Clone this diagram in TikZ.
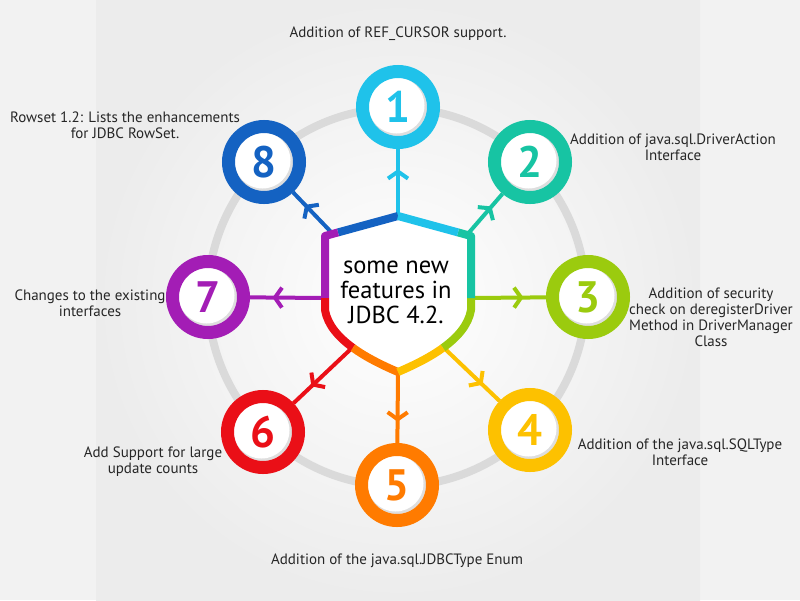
\documentclass[tikz,border=0pt]{standalone}
\usepackage{fontspec}
\setmainfont{PT Sans}
\usetikzlibrary{arrows.meta,decorations.markings}
\definecolor{featcyan}{HTML}{1FC2EA}
\definecolor{featteal}{HTML}{17C4A3}
\definecolor{featgreen}{HTML}{9BCB0E}
\definecolor{featyellow}{HTML}{FDC100}
\definecolor{featorange}{HTML}{FF7B00}
\definecolor{featred}{HTML}{EA0F17}
\definecolor{featpurple}{HTML}{A31DB5}
\definecolor{featblue}{HTML}{1462C2}
\definecolor{sidegray}{HTML}{F2F2F2}
\definecolor{panelgray}{HTML}{ECECEC}
\definecolor{ringgray}{HTML}{DADADA}
\begin{document}
\begin{tikzpicture}[x=1pt,y=-1pt,
    feature/.style ={circle, draw, line width=13pt, minimum size=71pt, inner sep=0pt,
       font=\fontsize{44}{44}\selectfont\bfseries,
       path picture={\fill[black!13] (path picture bounding box.center) circle (29);
          \fill[white] ([shift={(-1.5,-1.5)}]path picture bounding box.center) circle (28);}},
    link/.style ={line width=4pt, postaction={decorate}, decoration={markings,
       mark=at position 0.7 with {\arrow{Straight Barb[length=7pt,width=20pt]}}}},
    rim/.style ={line width=8pt, line join=round},
    caption/.style ={align=center, text=black!85, font=\fontsize{15}{16}\selectfont}]
   \useasboundingbox (0,0) rectangle (800,600);
   \fill[sidegray] (0,0) rectangle (800,600);
   \shade[inner color=white, outer color=panelgray] (96,0) rectangle (700,600);

   \draw[ringgray, line width=8pt] (397,297) circle (189);

   \node[feature, featcyan]   (n1) at (398,107) {1};
   \node[feature, featteal]   (n2) at (530,162) {2};
   \node[feature, featgreen]  (n3) at (588,297) {3};
   \node[feature, featyellow] (n4) at (530,430) {4};
   \node[feature, featorange] (n5) at (397,485) {5};
   \node[feature, featred]    (n6) at (263,432) {6};
   \node[feature, featpurple] (n7) at (208,297) {7};
   \node[feature, featblue]   (n8) at (264,162) {8};

   \coordinate (s1) at (398,216);
   \coordinate (s2) at (466,236);
   \coordinate (s3) at (471,298);
   \coordinate (s4) at (443,347);
   \coordinate (s5) at (398,372);
   \coordinate (s6) at (353,347);
   \coordinate (s7) at (325,298);
   \coordinate (s8) at (333,234);

   \draw[link, featcyan]   (s1) -- (n1);
   \draw[link, featteal]   (s2) -- (n2);
   \draw[link, featgreen]  (s3) -- (n3);
   \draw[link, featyellow] (s4) -- (n4);
   \draw[link, featorange] (s5) -- (n5);
   \draw[link, featred]    (s6) -- (n6);
   \draw[link, featpurple] (s7) -- (n7);
   \draw[link, featblue]   (s8) -- (n8);

   \fill[white] (398,216) -- (325,236) -- (325,310)
      .. controls (327.5,325) and (338.75,337.5) .. (352.9,347.75)
      .. controls (367,358) and (384,366) .. (398,372)
      .. controls (412,366) and (429,358) .. (443.1,347.75)
      .. controls (457.25,337.5) and (468.5,325) .. (471,310) -- (471,236) -- cycle;
   \draw[rim, featblue]   (398,216) -- (338,232.4);
   \draw[rim, featpurple] (338,232.4) -- (325,236) -- (325,298);
   \draw[rim, featred]    (325,298) -- (325,310) .. controls (327.5,325) and (338.75,337.5) .. (352.9,347.75);
   \draw[rim, featorange] (352.9,347.75) .. controls (367,358) and (384,366) .. (398,372);
   \draw[rim, featyellow] (398,372) .. controls (412,366) and (429,358) .. (443.1,347.75);
   \draw[rim, featgreen]  (443.1,347.75) .. controls (457.25,337.5) and (468.5,325) .. (471,310) -- (471,298);
   \draw[rim, featteal]   (471,298) -- (471,236) -- (458,232.4);
   \draw[rim, featcyan]   (458,232.4) -- (398,216);

   \node[align=center, font=\fontsize{24.5}{25}\selectfont] (c) at (396,292) {some new\\features in\\JDBC 4.2.};

   \node[caption] (t1) at (398,34)  {Addition of REF\_CURSOR support.};
   \node[caption] (t2) at (673,147) {Addition of java.sql.DriverAction\\Interface};
   \node[caption] (t3) at (711,317) {Addition of security\\check on deregisterDriver\\Method in DriverManager\\Class};
   \node[caption] (t4) at (680,452) {Addition of the java.sql.SQLType\\Interface};
   \node[caption] (t5) at (397,561) {Addition of the java.sql.JDBCType Enum};
   \node[caption] (t6) at (153,462) {Add Support for large\\update counts};
   \node[caption] (t7) at (90,303)  {Changes to the existing\\interfaces};
   \node[caption] (t8) at (125,125) {Rowset 1.2: Lists the enhancements\\for JDBC RowSet.};
 \end{tikzpicture}
\end{document}
